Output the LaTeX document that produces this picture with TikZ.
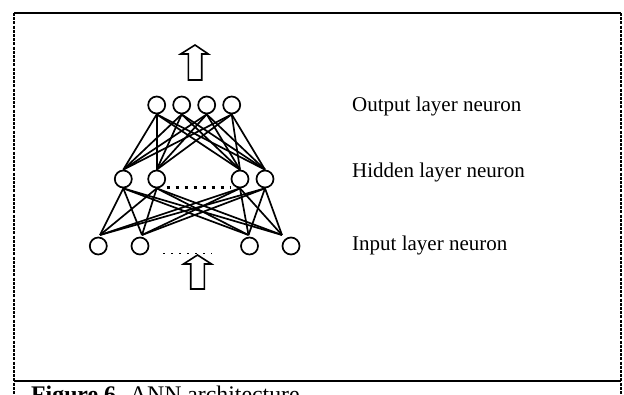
\documentclass[tikz,border=0pt]{standalone}
\usepackage{fontspec}
\setmainfont{Liberation Serif}
\begin{document}
\begin{tikzpicture}[x=1pt,y=-1pt,
  neuron/.style={circle,draw,line width=1.7pt,minimum size=17pt,inner sep=0pt},
  conn/.style={line width=1.7pt},
  lbl/.style={anchor=base west,inner sep=0pt,font=\fontsize{21}{25}\selectfont},
  frame/.style={line width=2.2pt},
  sideframe/.style={line width=2.5pt,dash pattern=on 3pt off 1.2pt},
  blockarrow/.style={draw,line width=1.6pt,fill=white,line join=miter}]
\useasboundingbox (0,0) rectangle (624,394);
% frame
\coordinate (tl) at (14,13);
\coordinate (tr) at (621,13);
\coordinate (bl) at (14,394);
\coordinate (br) at (621,394);
\coordinate (sl) at (14,381);
\coordinate (sr) at (621,381);
\draw[frame] (tl) -- (tr);
\draw[frame] (sl) -- (sr);
\draw[sideframe] (tl) -- (bl);
\draw[sideframe] (tr) -- (br);
% neurons
\foreach \n/\x in {o1/156.7,o2/181.7,o3/206.7,o4/231.7}
  \node[neuron] (\n) at (\x,105) {};
\foreach \n/\x in {h1/123.3,h2/156.7,h3/240,h4/265}
  \node[neuron] (\n) at (\x,179) {};
\foreach \n/\x in {i1/98.3,i2/140,i3/249.5,i4/291}
  \node[neuron] (\n) at (\x,246) {};
\coordinate (t1) at (100,235);
\coordinate (t2) at (142,235);
\coordinate (t3) at (248.5,235);
\coordinate (t4) at (282,235);
% connections
\foreach \a in {o1,o2,o3,o4}
  \foreach \b in {h1,h2,h3,h4}
    \draw[conn] (\a.south) -- (\b.north);
\foreach \a in {h1,h2,h3,h4}
  \foreach \b in {t1,t2,t3,t4}
    \draw[conn] (\a.south) -- (\b);
% dotted gaps
\coordinate (d1) at (166.7,187.5);
\coordinate (d2) at (231,187.5);
\draw[line width=3pt,dash pattern=on 3.5pt off 5.5pt] (d1) -- (d2);
\coordinate (e1) at (163,253.5);
\coordinate (e2) at (212,253.5);
\draw[line width=1.6pt,dash pattern=on 2pt off 6pt] (e1) -- (e2);
% block arrows
\draw[blockarrow] (195,45) -- (208.3,54) -- (201.7,54) -- (201.7,80) -- (188.3,80) -- (188.3,54) -- (180.7,54) -- cycle;
\draw[blockarrow] (197.5,255) -- (211.5,264) -- (204.3,264) -- (204.3,289) -- (190.7,289) -- (190.7,264) -- (183.5,264) -- cycle;
% labels
\node[lbl] (lo) at (352,111) {Output layer neuron};
\node[lbl] (lh) at (352,177) {Hidden layer neuron};
\node[lbl] (li) at (352,250) {Input layer neuron};
\node[anchor=base west,inner sep=0pt,font=\fontsize{23.8}{28}\selectfont] (cap) at (31,402) {\textbf{Figure 6.} ANN architecture};
\end{tikzpicture}
\end{document}
